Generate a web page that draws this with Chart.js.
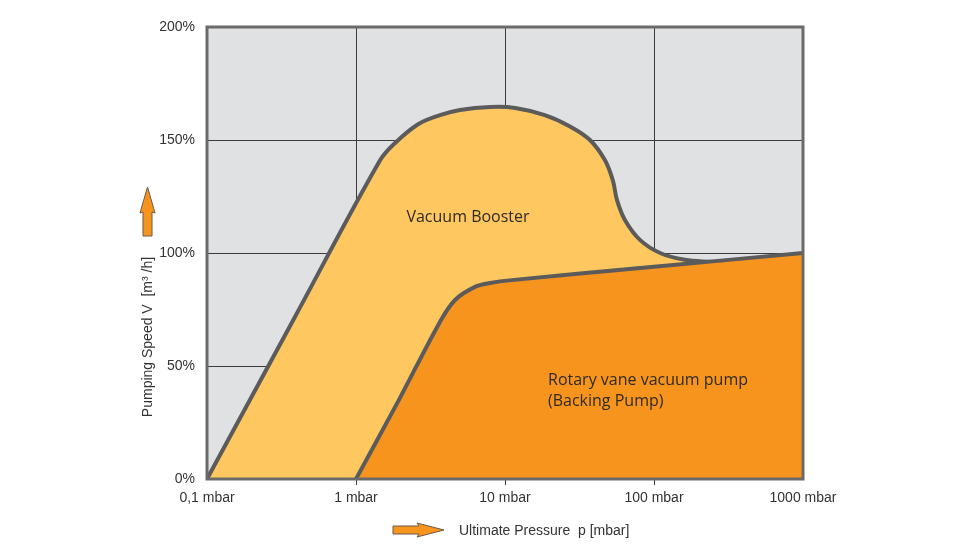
<!DOCTYPE html>
<html>
<head>
<meta charset="utf-8">
<script src="https://cdn.jsdelivr.net/npm/chart.js@4.4.1/dist/chart.umd.min.js"></script>
<style>
  html, body { margin: 0; padding: 0; background: #fff; }
  #wrap { width: 980px; height: 560px; }
</style>
</head>
<body>
<div id="wrap"><canvas id="chart"></canvas></div>
<script>
// Data (pressure in mbar, speed in %)
const pressureTicks = [0.1, 1, 10, 100, 1000];
const pressureLabels = ['0,1 mbar', '1 mbar', '10 mbar', '100 mbar', '1000 mbar'];
const speedTicks = [0, 50, 100, 150, 200];

const boosterPressure = [0.1, 0.381, 1.45, 1.83, 2.61, 3.66, 4.99, 7.93, 11.7, 18.5, 27.3, 37.2, 46.9, 53, 56.4, 63.8, 80.5, 110, 161, 245];
const boosterSpeed = [0, 70.6, 141, 148.7, 157, 161, 163.3, 164.6, 164.2, 161, 156, 150, 141, 132, 123.5, 114.6, 105.8, 100, 97, 96];

const pumpPressure = [1, 1.93, 3.66, 4.62, 6.29, 7.93, 11.1, 100, 1000];
const pumpSpeed = [0, 34.7, 69.5, 79.2, 85, 86.7, 88, 93.9, 100];

const toPoints = (xs, ys) => xs.map((x, i) => ({ x: x, y: ys[i] }));

// Background, frame, arrows and titles
const decorPlugin = {
    id: 'decor',
    beforeDraw(chart) {
        const { ctx, chartArea: a } = chart;
        ctx.save();
        ctx.fillStyle = '#e0e1e3';
        ctx.fillRect(a.left, a.top, a.right - a.left, a.bottom - a.top);
        ctx.restore();
    },
    afterDraw(chart) {
        const { ctx, chartArea: a } = chart;
        ctx.save();
        ctx.strokeStyle = '#6a6a6a';
        ctx.lineWidth = 3;
        ctx.strokeRect(a.left, a.top, a.right - a.left, a.bottom - a.top);

        // annotations
        ctx.fillStyle = '#2e2a25';
        ctx.font = '16px "Open Sans", "Noto Sans", sans-serif';
        ctx.textBaseline = 'middle';
        ctx.textAlign = 'center';
        ctx.fillText('Vacuum Booster', 468, 217);
        ctx.textAlign = 'left';
        ctx.fillText('Rotary vane vacuum pump', 548, 380);
        ctx.fillText('(Backing Pump)', 548, 401);

        // axis titles
        ctx.fillStyle = '#333';
        ctx.font = '14px "Liberation Sans", Arial, sans-serif';
        ctx.fillText('Ultimate Pressure  p [mbar]', 459, 531);
        ctx.save();
        ctx.translate(148, 337);
        ctx.rotate(-Math.PI / 2);
        ctx.textAlign = 'center';
        ctx.fillText('Pumping Speed V  [m\u00b3 /h]', 0, 0);
        ctx.restore();

        // arrows
        ctx.fillStyle = '#f7941d';
        ctx.strokeStyle = '#6a5a4a';
        ctx.lineWidth = 1;
        ctx.beginPath();
        ctx.moveTo(393, 526);
        ctx.lineTo(419, 526);
        ctx.lineTo(417, 523);
        ctx.lineTo(444, 530);
        ctx.lineTo(417, 537);
        ctx.lineTo(419, 534);
        ctx.lineTo(393, 534);
        ctx.closePath();
        ctx.fill();
        ctx.stroke();

        ctx.beginPath();
        ctx.moveTo(147.5, 187);
        ctx.lineTo(155, 213);
        ctx.lineTo(152, 212);
        ctx.lineTo(152, 236);
        ctx.lineTo(143, 236);
        ctx.lineTo(143, 212);
        ctx.lineTo(140, 213);
        ctx.closePath();
        ctx.fill();
        ctx.stroke();
        ctx.restore();
    }
};

const edgeTransparent = (c) => (c.index === 0 || c.index === pressureTicks.length - 1) ? 'rgba(0,0,0,0)' : '#3c3c3c';

new Chart(document.getElementById('chart'), {
    type: 'line',
    data: {
        datasets: [
            {
                label: 'Rotary vane vacuum pump',
                data: toPoints(pumpPressure, pumpSpeed),
                borderColor: '#5b5b5b',
                borderWidth: 4,
                backgroundColor: '#f7941d',
                fill: 'origin',
                tension: 0.35,
                pointRadius: 0,
                order: 0
            },
            {
                label: 'Vacuum Booster',
                data: toPoints(boosterPressure, boosterSpeed),
                borderColor: '#5b5b5b',
                borderWidth: 4,
                backgroundColor: '#fec75f',
                fill: 'origin',
                tension: 0.35,
                pointRadius: 0,
                order: 1
            }
        ]
    },
    options: {
        responsive: true,
        maintainAspectRatio: false,
        animation: false,
        layout: { padding: { left: 0, right: 177, top: 27, bottom: 0 } },
        plugins: {
            legend: { display: false },
            tooltip: { enabled: false }
        },
        scales: {
            x: {
                type: 'logarithmic',
                min: 0.1,
                max: 1000,
                afterBuildTicks: (scale) => { scale.ticks = pressureTicks.map(v => ({ value: v })); },
                afterFit: (scale) => { scale.height = 81; },
                grid: {
                    color: edgeTransparent,
                    tickColor: edgeTransparent,
                    lineWidth: 1,
                    tickLength: 6
                },
                border: { display: false },
                ticks: {
                    autoSkip: false,
                    maxRotation: 0,
                    padding: 5,
                    color: '#333',
                    font: { family: '"Liberation Sans", Arial, sans-serif', size: 14 },
                    callback: (v, i) => pressureLabels[i]
                }
            },
            y: {
                min: 0,
                max: 200,
                afterBuildTicks: (scale) => { scale.ticks = speedTicks.map(v => ({ value: v })); },
                afterFit: (scale) => { scale.width = 207; },
                grid: {
                    color: '#3c3c3c',
                    lineWidth: 1,
                    drawTicks: false
                },
                border: { display: false },
                ticks: {
                    padding: 12,
                    color: '#333',
                    font: { family: '"Liberation Sans", Arial, sans-serif', size: 14 },
                    callback: (v) => v + '%'
                }
            }
        }
    },
    plugins: [decorPlugin]
});
</script>
</body>
</html>
